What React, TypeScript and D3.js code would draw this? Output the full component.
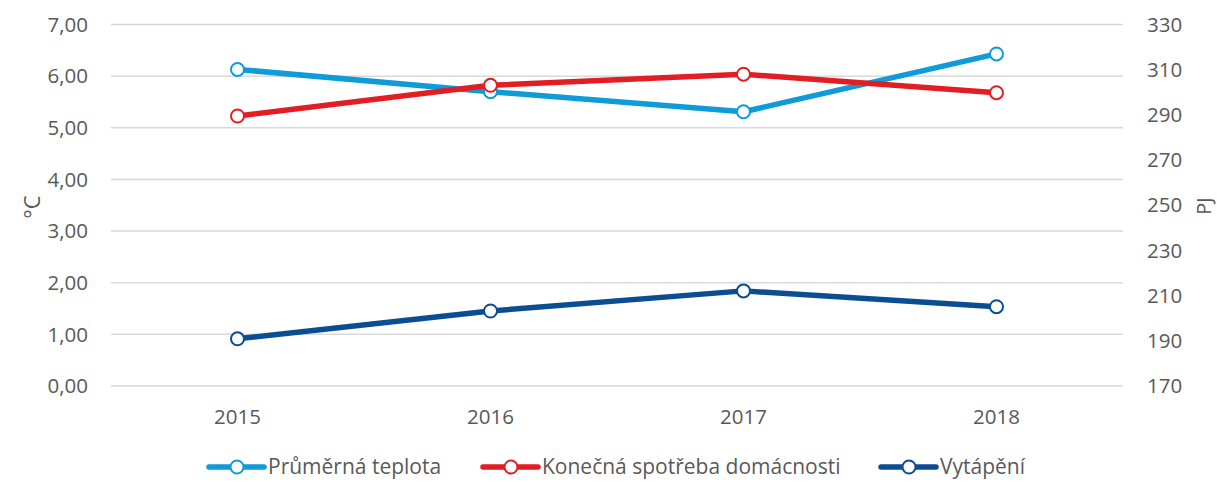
import * as d3 from 'd3';
import { useEffect, useRef } from 'react';

const years = ['2015', '2016', '2017', '2018'];
const teplota = [6.13, 5.7, 5.31, 6.43];
const spotreba = [289.5, 303.1, 308.0, 299.8];
const vytapeni = [190.9, 203.2, 212.1, 205.1];
const leftTicks = [0, 1, 2, 3, 4, 5, 6, 7];
const rightTicks = [170, 190, 210, 230, 250, 270, 290, 310, 330];

const seriesNames = ['Průměrná teplota', 'Konečná spotřeba domácnosti', 'Vytápění'];
const colors = ['#0f9bd7', '#e31d24', '#0b4d91'];

export default function App() {
  const ref = useRef<SVGSVGElement | null>(null);

  useEffect(() => {
    const svg = d3.select(ref.current);
    svg.selectAll('*').remove();

    const width = 1217, height = 482;
    const margin = { top: 24.5, right: 94, bottom: 96, left: 111 };
    const font = '"Open Sans", sans-serif';

    const x = d3.scaleBand().domain(years).range([margin.left, width - margin.right]);
    const yL = d3.scaleLinear().domain([0, 7]).range([height - margin.bottom, margin.top]);
    const yR = d3.scaleLinear().domain([170, 330]).range([height - margin.bottom, margin.top]);
    const cx = (d: string) => (x(d) ?? 0) + x.bandwidth() / 2;

    // gridlines
    svg.append('g').selectAll('line').data(leftTicks).join('line')
      .attr('x1', margin.left).attr('x2', width - margin.right)
      .attr('y1', (d) => yL(d)).attr('y2', (d) => yL(d))
      .attr('stroke', '#d9d9d9').attr('stroke-width', 1.5);

    // left axis labels
    svg.append('g').selectAll('text').data(leftTicks).join('text')
      .attr('x', 88).attr('y', (d) => yL(d)).attr('dy', '0.35em')
      .attr('text-anchor', 'end').attr('font-family', font).attr('font-size', 20.5).attr('fill', '#595959')
      .text((d) => d.toFixed(2).replace('.', ','));

    // right axis labels
    svg.append('g').selectAll('text').data(rightTicks).join('text')
      .attr('x', 1147).attr('y', (d) => yR(d)).attr('dy', '0.35em')
      .attr('text-anchor', 'start').attr('font-family', font).attr('font-size', 20.5).attr('fill', '#595959')
      .text((d) => String(d));

    // x labels
    svg.append('g').selectAll('text').data(years).join('text')
      .attr('x', (d) => cx(d)).attr('y', 417).attr('dy', '0.35em')
      .attr('text-anchor', 'middle').attr('font-family', font).attr('font-size', 20.5).attr('fill', '#595959')
      .text((d) => d);

    // axis titles
    svg.append('text').attr('transform', 'translate(32,207) rotate(-90)')
      .attr('text-anchor', 'middle').attr('dy', '0.35em').attr('font-family', font).attr('font-size', 22).attr('fill', '#595959')
      .text('°C');
    svg.append('text').attr('transform', 'translate(1204,206) rotate(-90)')
      .attr('text-anchor', 'middle').attr('dy', '0.35em').attr('font-family', font).attr('font-size', 20).attr('fill', '#595959')
      .text('PJ');

    const series = [
      { values: teplota, scale: yL },
      { values: spotreba, scale: yR },
      { values: vytapeni, scale: yR },
    ];

    series.forEach((s, i) => {
      const pts: [number, number][] = years.map((yr, j) => [cx(yr), s.scale(s.values[j])]);
      svg.append('path').attr('d', d3.line()(pts))
        .attr('fill', 'none').attr('stroke', colors[i]).attr('stroke-width', 5.5).attr('stroke-linejoin', 'round');
      svg.append('g').selectAll('circle').data(pts).join('circle')
        .attr('cx', (d) => d[0]).attr('cy', (d) => d[1]).attr('r', 6.5)
        .attr('fill', '#fff').attr('stroke', colors[i]).attr('stroke-width', 2);
    });

    // legend
    const legendX = [209, 483, 881];
    const lg = svg.append('g');
    seriesNames.forEach((name, i) => {
      const x0 = legendX[i], ly = 467;
      lg.append('line').attr('x1', x0).attr('x2', x0 + 55).attr('y1', ly).attr('y2', ly)
        .attr('stroke', colors[i]).attr('stroke-width', 5.5).attr('stroke-linecap', 'round');
      lg.append('circle').attr('cx', x0 + 28).attr('cy', ly).attr('r', 6.5)
        .attr('fill', '#fff').attr('stroke', colors[i]).attr('stroke-width', 2);
      lg.append('text').attr('x', x0 + 59).attr('y', ly).attr('dy', '0.35em')
        .attr('font-family', font).attr('font-size', 21).attr('fill', '#595959').text(name);
    });
  }, []);

  return (
    <>
      <style>{'body{margin:0}'}</style>
      <svg ref={ref} width={1217} height={482} style={{ display: 'block' }} />
    </>
  );
}
